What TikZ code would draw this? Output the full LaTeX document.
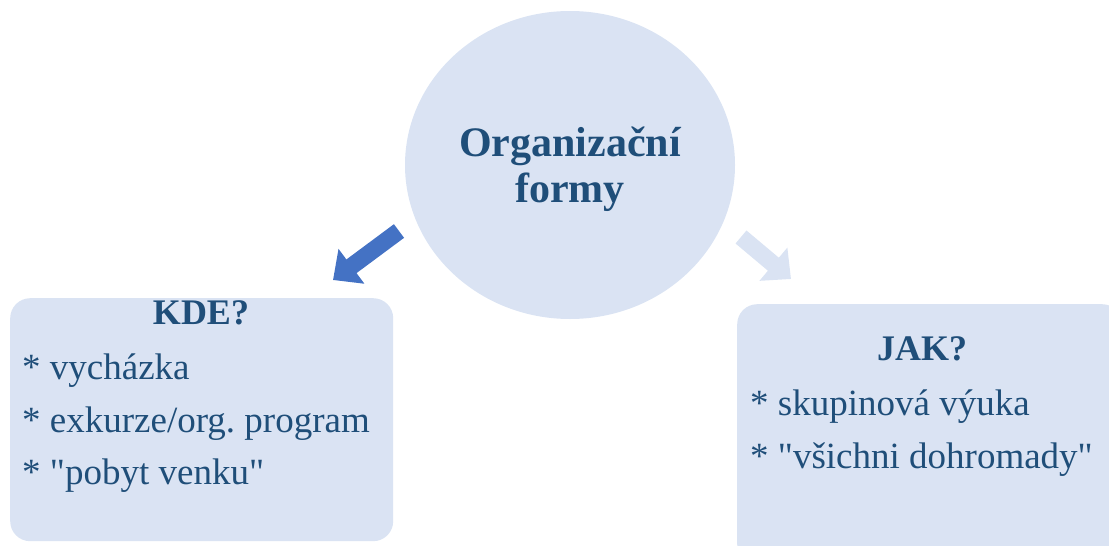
\documentclass[tikz,border=0pt]{standalone}
\usepackage{fontspec}
\setmainfont{Liberation Serif}[Ligatures=TeXOff]
\usetikzlibrary{arrows.meta,shapes.geometric}
\definecolor{paleblue}{HTML}{DAE3F3}
\definecolor{inkblue}{HTML}{1F4E79}
\definecolor{arrowblue}{HTML}{4472C4}
\tikzset{
  panel/.style={fill=paleblue, draw=none, rounded corners=20pt},
  heading/.style={text=inkblue, font=\fontsize{36}{40}\selectfont\bfseries, inner sep=0pt},
  items/.style={text=inkblue, font=\fontsize{37}{52.5}\selectfont\frenchspacing, align=left, inner sep=0pt, anchor=north west},
  blockarrow/.style={line width=17pt, -{Triangle[width=42pt,length=23pt]}}
}
\begin{document}
\begin{tikzpicture}[x=1pt,y=-1pt]
  \useasboundingbox (0,0) rectangle (1109,546);
  \clip (0,0) rectangle (1109,546);
  % central topic
  \node (topic) [ellipse, fill=paleblue, minimum width=330pt, minimum height=308pt] at (570,165) {};
  \node (topict) [text=inkblue, font=\fontsize{42}{46}\selectfont\bfseries, align=center, inner sep=0pt]
        at (570,169) {Organizační\\formy};
  % left panel: where
  \node (kde) [panel, minimum width=383pt, minimum height=243pt, anchor=north west] at (10,298) {};
  \node (kdeh) [heading] at (201,313) {KDE?};
  \node (kdel) [items] at (22,354) {* vycházka\\* exkurze/org. program\\* "pobyt venku"};
  % right panel: how
  \node (jak) [panel, minimum width=385pt, minimum height=260pt, anchor=north west] at (737,304) {};
  \node (jakh) [heading] at (922,349) {JAK?};
  \node (jakl) [items] at (750,390) {* skupinová výuka\\* "všichni dohromady"};
  % arrows out of the topic
  \coordinate (la) at (399,231);
  \coordinate (lb) at (333,280);
  \coordinate (ra) at (741,237);
  \coordinate (rb) at (791,279);
  \draw[blockarrow, arrowblue] (la) -- (lb);
  \draw[blockarrow, paleblue] (ra) -- (rb);
\end{tikzpicture}
\end{document}
